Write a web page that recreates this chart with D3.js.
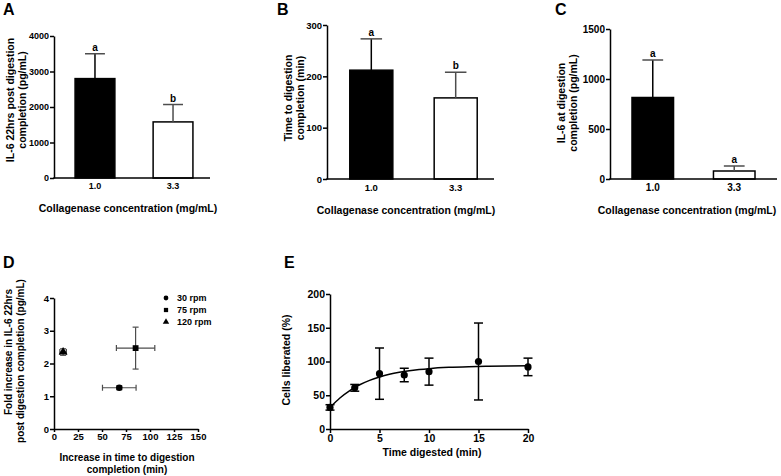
<!DOCTYPE html>
<html><head><meta charset="utf-8">
<script src="https://cdn.jsdelivr.net/npm/d3@7"></script>
<style>
body{margin:0;background:#fff}
svg text{font-family:"Liberation Sans",Arial,Helvetica,sans-serif;font-weight:bold;fill:#000}
</style>
</head><body>
<svg id="chart" width="781" height="476"></svg>
<script>
// ---------------- DATA ----------------
const concCategories = ["1.0", "3.3"];
const il6PostMeans = [2800, 1580];
const il6PostErr = [700, 490];
const il6PostLetters = ["a", "b"];
const il6PostTicks = [0, 1000, 2000, 3000, 4000];

const timeMeans = [212, 158];
const timeErr = [61, 50];
const timeLetters = ["a", "b"];
const timeTicks = [0, 100, 200, 300];

const il6AtMeans = [815, 80];
const il6AtErr = [375, 50];
const il6AtLetters = ["a", "a"];
const il6AtTicks = [0, 500, 1000, 1500];

const rpmLabels = ["30 rpm", "75 rpm", "120 rpm"];
const rpmSymbols = ["circle", "square", "triangle"];
const rpmTimeIncrease = [68, 85, 9.5];
const rpmTimeErr = [17.5, 20, 3.4];
const rpmFold = [1.26, 2.47, 2.35];
const rpmFoldErr = [0.06, 0.64, 0.1];
const foldTicks = [0, 1, 2, 3, 4];
const timeIncTicks = [0, 25, 50, 75, 100, 125, 150];

const digestTimes = [0, 2.5, 5, 7.5, 10, 15, 20];
const cellsLiberated = [32, 61, 82, 80, 85, 100, 92];
const cellsUpper = [36, 66, 120, 90, 105, 157, 105];
const cellsLower = [28, 56, 44, 70, 65, 43, 79];
const fitTimes = [0, 1, 2, 3, 4, 5, 6, 7, 8, 9, 10, 12, 14, 16, 18, 20];
const fitValues = [32, 46, 57, 65.5, 72, 77, 81, 84, 86.3, 88, 89.4, 91.3, 92.4, 93, 93.4, 93.7];
const cellsTicks = [0, 50, 100, 150, 200];
const digestTicks = [0, 5, 10, 15, 20];

// ---------------- DRAWING ----------------
const svg = d3.select("#chart");
const AX = 1.5;
const ERR_GRAY = "#4d4d4d";
const intFmt = d3.format("d");

function styleAxis(sel, fs) {
  sel.selectAll("path.domain").attr("stroke", "#000").attr("stroke-width", AX);
  sel.selectAll(".tick line").attr("stroke", "#000").attr("stroke-width", AX);
  sel.selectAll(".tick text").style("font-size", fs + "px").style("font-family", "'Liberation Sans',Arial,sans-serif").style("font-weight", "bold").attr("fill", "#000");
}

function panelLetter(txt, x, y) {
  svg.append("text").attr("x", x).attr("y", y).style("font-size", "16px").text(txt);
}

function rotTitle(lines, x, y, fs, gap) {
  lines.forEach((l, i) => {
    svg.append("text")
      .attr("transform", `translate(${x + i * gap},${y}) rotate(-90)`)
      .attr("text-anchor", "middle").style("font-size", fs + "px").text(l);
  });
}

function barPanel(o) {
  const y = d3.scaleLinear().domain([0, o.max]).range([o.y0, o.yTop]);
  const x = d3.scaleBand().domain(concCategories).range([o.x0, o.bandEnd])
    .paddingInner(0.49).paddingOuter(0.27).align(0.5);
  const g = svg.append("g");
  g.selectAll("rect.bar").data(o.means).join("rect")
    .attr("x", (d, i) => x(concCategories[i]))
    .attr("width", x.bandwidth())
    .attr("y", d => y(d))
    .attr("height", d => o.y0 - y(d))
    .attr("fill", (d, i) => i === 0 ? "#000" : "#fff")
    .attr("stroke", "#000").attr("stroke-width", 1.5);
  const capW = x.bandwidth() * 0.5;
  o.means.forEach((m, i) => {
    const cx = x(concCategories[i]) + x.bandwidth() / 2;
    const top = y(m + o.errs[i]);
    g.append("line").attr("x1", cx).attr("x2", cx).attr("y1", y(m)).attr("y2", top)
      .attr("stroke", i === 0 ? "#000" : ERR_GRAY).attr("stroke-width", 1.5);
    g.append("line").attr("x1", cx - capW / 2).attr("x2", cx + capW / 2).attr("y1", top).attr("y2", top)
      .attr("stroke", ERR_GRAY).attr("stroke-width", 1.5);
    g.append("text").attr("x", cx).attr("y", top - 3).attr("text-anchor", "middle")
      .style("font-size", "10px").text(o.letters[i]);
  });
  const ya = g.append("g").attr("transform", `translate(${o.x0},0)`)
    .call(d3.axisLeft(y).tickValues(o.ticks).tickFormat(intFmt).tickSize(4).tickPadding(1).tickSizeOuter(0));
  styleAxis(ya, o.tickFs);
  const xa = g.append("g").attr("transform", `translate(0,${o.y0})`)
    .call(d3.axisBottom(x).tickSize(0).tickPadding(5));
  xa.select("path.domain").remove();
  styleAxis(xa, o.tickFs);
  g.append("line").attr("x1", o.x0 - 0.75).attr("x2", o.xEnd).attr("y1", o.y0).attr("y2", o.y0)
    .attr("stroke", "#000").attr("stroke-width", AX);
  svg.append("text").attr("x", o.xTitleX).attr("y", o.xTitleY).attr("text-anchor", "middle")
    .style("font-size", "10.5px").text("Collagenase concentration (mg/mL)");
  rotTitle(o.yTitle, o.yTitleX, o.yTitleY, 10.5, 12);
}

// Panel A
panelLetter("A", 3, 15);
barPanel({x0: 54, bandEnd: 214, xEnd: 210, y0: 178, yTop: 36, max: 4000, ticks: il6PostTicks,
  means: il6PostMeans, errs: il6PostErr, letters: il6PostLetters, tickFs: 9,
  xTitleX: 128, xTitleY: 212, yTitle: ["IL-6 22hrs post digestion", "completion (pg/mL)"],
  yTitleX: 14, yTitleY: 100});

// Panel B
panelLetter("B", 277, 15);
barPanel({x0: 327, bandEnd: 500, xEnd: 494, y0: 179, yTop: 25, max: 300, ticks: timeTicks,
  means: timeMeans, errs: timeErr, letters: timeLetters, tickFs: 9.5,
  xTitleX: 406, xTitleY: 214, yTitle: ["Time to digestion", "completion (min)"],
  yTitleX: 292, yTitleY: 98});

// Panel C
panelLetter("C", 555, 15);
barPanel({x0: 610, bandEnd: 777, xEnd: 777, y0: 179, yTop: 29, max: 1500, ticks: il6AtTicks,
  means: il6AtMeans, errs: il6AtErr, letters: il6AtLetters, tickFs: 10,
  xTitleX: 687, xTitleY: 214, yTitle: ["IL-6 at digestion", "completion (pg/mL)"],
  yTitleX: 565, yTitleY: 103});

// Panel D
panelLetter("D", 3, 268);
(function () {
  const x = d3.scaleLinear().domain([0, 150]).range([54, 198]);
  const y = d3.scaleLinear().domain([0, 4]).range([429, 298]);
  const g = svg.append("g");
  const ya = g.append("g").attr("transform", "translate(54,0)")
    .call(d3.axisLeft(y).tickValues(foldTicks).tickFormat(intFmt).tickSize(4).tickPadding(1).tickSizeOuter(0));
  styleAxis(ya, 9.5);
  const xa = g.append("g").attr("transform", "translate(0,429)")
    .call(d3.axisBottom(x).tickValues(timeIncTicks).tickFormat(intFmt).tickSize(3).tickPadding(1).tickSizeOuter(0));
  styleAxis(xa, 9.5);
  const cap = 3;
  rpmLabels.forEach((lab, i) => {
    const cx = x(rpmTimeIncrease[i]), cy = y(rpmFold[i]);
    const xl = x(rpmTimeIncrease[i] - rpmTimeErr[i]), xr = x(rpmTimeIncrease[i] + rpmTimeErr[i]);
    const yt = y(rpmFold[i] + rpmFoldErr[i]), yb = y(rpmFold[i] - rpmFoldErr[i]);
    const st = l => l.attr("stroke", ERR_GRAY).attr("stroke-width", 1.2);
    st(g.append("line").attr("x1", xl).attr("x2", xr).attr("y1", cy).attr("y2", cy));
    st(g.append("line").attr("x1", xl).attr("x2", xl).attr("y1", cy - cap).attr("y2", cy + cap));
    st(g.append("line").attr("x1", xr).attr("x2", xr).attr("y1", cy - cap).attr("y2", cy + cap));
    st(g.append("line").attr("x1", cx).attr("x2", cx).attr("y1", yt).attr("y2", yb));
    st(g.append("line").attr("x1", cx - cap).attr("x2", cx + cap).attr("y1", yt).attr("y2", yt));
    st(g.append("line").attr("x1", cx - cap).attr("x2", cx + cap).attr("y1", yb).attr("y2", yb));
  });
  const symType = {circle: d3.symbolCircle, square: d3.symbolSquare, triangle: d3.symbolTriangle};
  rpmLabels.forEach((lab, i) => {
    g.append("path").attr("d", d3.symbol().type(symType[rpmSymbols[i]]).size(34)())
      .attr("transform", `translate(${x(rpmTimeIncrease[i])},${y(rpmFold[i])})`).attr("fill", "#000");
  });
  rpmLabels.forEach((lab, i) => {
    const ly = 298 + i * 12;
    g.append("path").attr("d", d3.symbol().type(symType[rpmSymbols[i]]).size(18)())
      .attr("transform", `translate(166,${ly})`).attr("fill", "#000");
    g.append("text").attr("x", 177).attr("y", ly).attr("dy", "0.35em").style("font-size", "9px").text(lab);
  });
  svg.append("text").attr("x", 127).attr("y", 461).attr("text-anchor", "middle").style("font-size", "10px").text("Increase in time to digestion");
  svg.append("text").attr("x", 127).attr("y", 473).attr("text-anchor", "middle").style("font-size", "10px").text("completion (min)");
  svg.append("text").attr("transform", "translate(12,352) rotate(-90)").attr("text-anchor", "middle").style("font-size", "10px").text("Fold increase in IL-6 22hrs");
  svg.append("text").attr("transform", "translate(24,361) rotate(-90)").attr("text-anchor", "middle").style("font-size", "10px").text("post digestion completion (pg/mL)");
})();

// Panel E
panelLetter("E", 284, 268);
(function () {
  const x = d3.scaleLinear().domain([0, 20]).range([330, 528]);
  const y = d3.scaleLinear().domain([0, 200]).range([429, 294]);
  const g = svg.append("g");
  const ya = g.append("g").attr("transform", "translate(330,0)")
    .call(d3.axisLeft(y).tickValues(cellsTicks).tickFormat(intFmt).tickSize(4).tickPadding(1).tickSizeOuter(0));
  styleAxis(ya, 10.5);
  const xa = g.append("g").attr("transform", "translate(0,429)")
    .call(d3.axisBottom(x).tickValues(digestTicks).tickFormat(intFmt).tickSize(4).tickPadding(2).tickSizeOuter(0));
  styleAxis(xa, 10.5);
  const line = d3.line().x((d, i) => x(fitTimes[i])).y(d => y(d)).curve(d3.curveMonotoneX);
  g.append("path").attr("d", line(fitValues)).attr("fill", "none").attr("stroke", "#000").attr("stroke-width", 1.5);
  digestTimes.forEach((t, i) => {
    const cx = x(t);
    g.append("line").attr("x1", cx).attr("x2", cx).attr("y1", y(cellsUpper[i])).attr("y2", y(cellsLower[i]))
      .attr("stroke", "#000").attr("stroke-width", 1.5);
    [cellsUpper[i], cellsLower[i]].forEach(v => {
      g.append("line").attr("x1", cx - 4.5).attr("x2", cx + 4.5).attr("y1", y(v)).attr("y2", y(v))
        .attr("stroke", "#000").attr("stroke-width", 1.5);
    });
  });
  g.selectAll("circle.pt").data(cellsLiberated).join("circle")
    .attr("cx", (d, i) => x(digestTimes[i])).attr("cy", d => y(d)).attr("r", 3.6).attr("fill", "#000");
  svg.append("text").attr("x", 432).attr("y", 456).attr("text-anchor", "middle").style("font-size", "10.5px").text("Time digested (min)");
  svg.append("text").attr("transform", "translate(290,360) rotate(-90)").attr("text-anchor", "middle").style("font-size", "10.5px").text("Cells liberated (%)");
})();
</script>
</body></html>
